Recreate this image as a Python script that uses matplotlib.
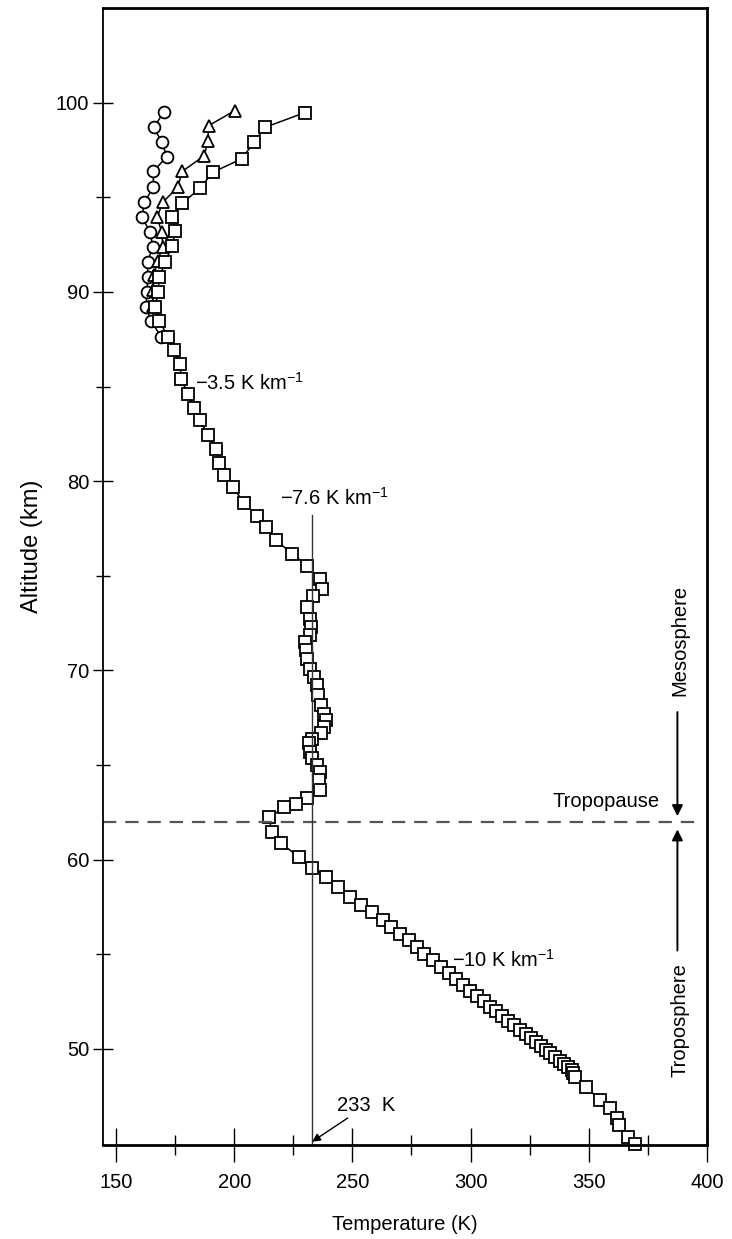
import matplotlib
matplotlib.use("Agg")
import matplotlib.pyplot as plt
from matplotlib import font_manager

# pick a condensed sans if present
names = {f.name for f in font_manager.fontManager.ttflist}
fam = "Liberation Sans Narrow" if "Liberation Sans Narrow" in names else "Liberation Sans"
plt.rcParams["font.family"] = [fam, "DejaVu Sans"]
plt.rcParams["mathtext.fontset"] = "custom"
plt.rcParams["mathtext.rm"] = fam
plt.rcParams["mathtext.it"] = fam
FS = 17 if fam.endswith("Narrow") else 14.5

# main profile (squares)
sq_T = [229.8, 213.1, 208.4, 203.1, 190.9, 185.7, 178.0, 173.8, 175.1, 173.8,
        170.8, 168.4, 167.7, 166.6, 168.4, 171.9, 174.7, 177.2, 177.5, 180.4,
        183.1, 185.7, 188.8, 192.3, 193.7, 195.5, 199.3, 204.2, 209.6, 213.4,
        217.6, 224.6, 230.9, 236.3, 237.3, 233.5, 230.9, 232.0, 232.6, 232.0,
        229.8, 230.2, 230.6, 232.0, 233.7, 234.9, 235.4, 236.8, 237.9, 238.7,
        238.2, 236.6, 233.1, 231.6, 232.0, 233.1, 234.9, 236.3, 235.9, 236.3,
        230.9, 226.0, 221.1, 214.8, 215.9, 219.7, 227.5, 233.0, 239.0, 243.9,
        248.9, 253.8, 258.3, 262.8, 266.5, 270.3, 273.8, 277.3, 280.5, 283.9,
        287.6, 290.9, 293.8, 297.0, 299.8, 302.6, 305.7, 308.2, 310.6, 313.2,
        315.9, 318.5, 320.9, 323.3, 325.5, 327.6, 329.7, 331.8, 333.8, 335.9,
        337.7, 339.5, 341.2, 342.7, 343.5, 344.1, 348.7, 354.9, 358.8, 361.9,
        362.6, 366.6, 369.4]
sq_z = [99.47, 98.70, 97.90, 97.03, 96.32, 95.50, 94.68, 93.94, 93.20, 92.45,
        91.57, 90.78, 89.98, 89.19, 88.49, 87.61, 86.91, 86.17, 85.41, 84.62,
        83.86, 83.21, 82.42, 81.72, 80.96, 80.31, 79.69, 78.86, 78.16, 77.58,
        76.87, 76.17, 75.50, 74.85, 74.32, 73.95, 73.35, 72.74, 72.30, 71.86,
        71.50, 71.07, 70.63, 70.10, 69.66, 69.22, 68.69, 68.16, 67.72, 67.37,
        67.02, 66.67, 66.40, 66.14, 65.70, 65.35, 64.99, 64.64, 64.20, 63.67,
        63.24, 62.92, 62.76, 62.23, 61.47, 60.88, 60.13, 59.58, 59.06, 58.57,
        58.04, 57.60, 57.22, 56.81, 56.46, 56.06, 55.75, 55.37, 55.02, 54.70,
        54.35, 54.00, 53.68, 53.38, 53.06, 52.81, 52.53, 52.23, 52.01, 51.76,
        51.48, 51.27, 51.00, 50.78, 50.56, 50.39, 50.18, 49.95, 49.77, 49.59,
        49.38, 49.21, 49.03, 48.89, 48.75, 48.51, 47.98, 47.31, 46.87, 46.34,
        45.99, 45.37, 44.98]

# upper profiles
tri_T = [200.3, 189.2, 188.8, 187.4, 178.0, 176.1, 169.8, 167.4, 169.4, 169.8,
         167.7, 166.0, 165.6, 165.6]
tri_z = [99.58, 98.79, 97.96, 97.20, 96.37, 95.53, 94.74, 93.94, 93.15, 92.40,
         91.66, 90.87, 90.08, 89.28]
cir_T = [170.2, 166.0, 169.4, 171.5, 165.8, 165.8, 162.0, 161.0, 164.5, 165.5,
         163.4, 163.4, 163.1, 162.7, 164.8, 169.1]
cir_z = [99.49, 98.70, 97.90, 97.15, 96.37, 95.53, 94.74, 93.94, 93.15, 92.40,
         91.57, 90.78, 89.98, 89.19, 88.49, 87.61]

tropopause_z = 62.0
ref_T = 233

fig = plt.figure(figsize=(7.32, 12.39), dpi=100)
ax = fig.add_axes([0.1407, 0.0755, 0.8251, 0.918])

mk = dict(color="black", lw=1.1, mfc="white", mec="black", mew=1.3, clip_on=False)
ax.plot(cir_T, cir_z, marker="o", ms=8.5, **mk)
ax.plot(tri_T, tri_z, marker="^", ms=8.5, **mk)
ax.plot(sq_T, sq_z, marker="s", ms=8.5, **mk)

ax.set_xlim(144.5, 400)
ax.set_ylim(44.9, 105)

# tropopause and 233 K reference
ax.plot([144.5, 396], [tropopause_z, tropopause_z], ls=(0, (6, 4)), color="#555555", lw=1.6)
ax.plot([ref_T, ref_T], [44.9, 78.2], color="#333333", lw=1.0)

ax.text(183.5, 85.2, r"$-$3.5 K km$^{-1}$", fontsize=FS, va="center")
ax.text(219.5, 79.1, r"$-$7.6 K km$^{-1}$", fontsize=FS, va="center")
ax.text(292.0, 54.7, r"$-$10 K km$^{-1}$", fontsize=FS, va="center")
ax.annotate("233  K", xy=(ref_T, 45.1), xytext=(243.5, 47.0), fontsize=FS, va="center",
            arrowprops=dict(arrowstyle="-|>", color="black", lw=1.0, mutation_scale=12,
                            shrinkA=0, shrinkB=0))

ax.text(380, 63.1, "Tropopause", fontsize=FS, ha="right", va="center")
ax.annotate("", xy=(387.5, 62.3), xytext=(387.5, 67.8),
            arrowprops=dict(arrowstyle="-|>", color="black", lw=1.4, mutation_scale=16,
                            shrinkA=0, shrinkB=0))
ax.annotate("", xy=(387.5, 61.6), xytext=(387.5, 55.2),
            arrowprops=dict(arrowstyle="-|>", color="black", lw=1.4, mutation_scale=16,
                            shrinkA=0, shrinkB=0))
ax.text(388.5, 71.6, "Mesosphere", fontsize=FS, rotation=90, ha="center", va="center")
ax.text(388.5, 51.5, "Troposphere", fontsize=FS, rotation=90, ha="center", va="center")

ax.set_xticks([150, 200, 250, 300, 350, 400])
ax.set_xticks([175, 225, 275, 325, 375], minor=True)
ax.set_yticks([50, 60, 70, 80, 90, 100])
ax.set_yticks([55, 65, 75, 85, 95], minor=True)
ax.tick_params(axis="x", which="major", direction="inout", length=25, width=1.0,
               labelsize=FS, pad=7)
ax.tick_params(axis="x", which="minor", direction="inout", length=14, width=1.0)
ax.tick_params(axis="y", which="major", direction="inout", length=14, width=1.0,
               labelsize=FS, pad=3)
ax.tick_params(axis="y", which="minor", direction="inout", length=10, width=1.0)

for side in ("top", "right", "bottom"):
    ax.spines[side].set_linewidth(2.0)
ax.spines["left"].set_linewidth(1.3)

ax.set_xlabel("Temperature (K)", fontsize=FS, labelpad=17)
ax.set_ylabel("Altitude (km)", fontsize=17)
ax.yaxis.set_label_coords(-0.1, 0.527)

fig.savefig("out.png", dpi=100)
